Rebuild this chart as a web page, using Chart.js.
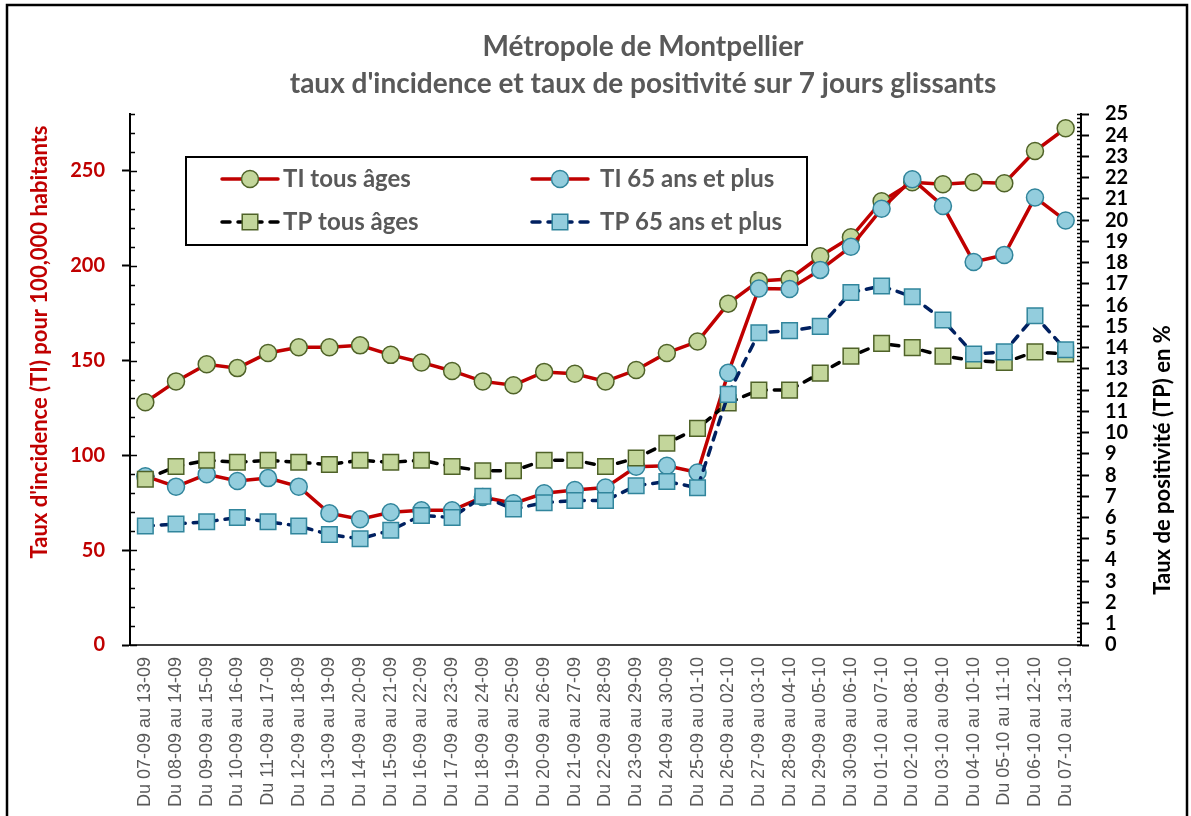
<!DOCTYPE html>
<html lang="fr">
<head>
<meta charset="utf-8">
<title>Métropole de Montpellier - TI et TP</title>
<script src="https://cdn.jsdelivr.net/npm/chart.js"></script>
<style>
    html, body { margin: 0; padding: 0; background: #fff; }
    #wrap { position: relative; width: 1191px; height: 816px; }
</style>
</head>
<body>
<div id="wrap"><canvas id="chart"></canvas></div>
<script>
// Périodes (7 jours glissants)
const labels = [
    'Du 07-09 au 13-09', 'Du 08-09 au 14-09', 'Du 09-09 au 15-09', 'Du 10-09 au 16-09',
    'Du 11-09 au 17-09', 'Du 12-09 au 18-09', 'Du 13-09 au 19-09', 'Du 14-09 au 20-09',
    'Du 15-09 au 21-09', 'Du 16-09 au 22-09', 'Du 17-09 au 23-09', 'Du 18-09 au 24-09',
    'Du 19-09 au 25-09', 'Du 20-09 au 26-09', 'Du 21-09 au 27-09', 'Du 22-09 au 28-09',
    'Du 23-09 au 29-09', 'Du 24-09 au 30-09', 'Du 25-09 au 01-10', 'Du 26-09 au 02-10',
    'Du 27-09 au 03-10', 'Du 28-09 au 04-10', 'Du 29-09 au 05-10', 'Du 30-09 au 06-10',
    'Du 01-10 au 07-10', 'Du 02-10 au 08-10', 'Du 03-10 au 09-10', 'Du 04-10 au 10-10',
    'Du 05-10 au 11-10', 'Du 06-10 au 12-10', 'Du 07-10 au 13-10'
];

// Taux d'incidence (pour 100 000 hab.)
const tiTousAges = [128, 139, 148, 146, 154, 157, 157, 158, 153, 149, 144.5, 139, 137, 144, 143, 139,
    145, 154, 160, 180, 192, 193, 205, 215, 234, 244, 243, 244, 243.5, 260.5, 272.5];
const ti65Plus = [89, 83.5, 90, 86.5, 88, 83.5, 69.5, 66.3, 70, 71, 71, 78, 74.7, 80, 81.7, 83,
    94, 94.5, 91, 143.5, 188, 187.7, 197.8, 210, 230, 245.6, 231.5, 202, 205.7, 236, 223.8];

// Taux de positivité (%)
const tpTousAges = [7.8, 8.4, 8.7, 8.6, 8.7, 8.6, 8.5, 8.7, 8.6, 8.7, 8.4, 8.2, 8.2, 8.7, 8.7, 8.4,
    8.8, 9.5, 10.2, 11.4, 12.0, 12.0, 12.8, 13.6, 14.2, 14.0, 13.6, 13.4, 13.3, 13.8, 13.7];
const tp65Plus = [5.6, 5.7, 5.8, 6.0, 5.8, 5.6, 5.2, 5.0, 5.4, 6.1, 6.0, 7.0, 6.4, 6.7, 6.8, 6.8,
    7.5, 7.7, 7.4, 11.8, 14.7, 14.8, 15.0, 16.6, 16.9, 16.4, 15.3, 13.7, 13.8, 15.5, 13.9];

const titleLines = ['Métropole de Montpellier', "taux d'incidence et taux de positivité sur 7 jours glissants"];
const leftTitle = "Taux d'incidence (TI) pour 100,000 habitants";
const rightTitle = 'Taux de positivité (TP) en %';

const RED = '#C00000';
const GREEN_FILL = '#C3D69B', GREEN_EDGE = '#4F6228';
const BLUE_FILL = '#93CDDD', BLUE_EDGE = '#31859C';

const isWhole = v => Math.abs(v - Math.round(v)) < 1e-6;

// titres, légende encadrée, petites graduations intérieures
const overlayPlugin = {
    id: 'overlay',
    beforeDraw(chart) {
        const ctx = chart.ctx;
        ctx.save();
        ctx.strokeStyle = '#000';
        ctx.lineWidth = 2.5;
        ctx.strokeRect(7, 5, 1180, 900);
        ctx.restore();
    },
    afterDraw(chart) {
        const ctx = chart.ctx;
        const area = chart.chartArea;
        ctx.save();

        // titre
        ctx.fillStyle = '#595959';
        ctx.font = 'bold 28px Lato';
        ctx.textAlign = 'center';
        ctx.textBaseline = 'middle';
        ctx.fillText(titleLines[0], 643, 47);
        ctx.fillText(titleLines[1], 643, 84);

        // titres des axes
        ctx.font = 'bold 22px Lato';
        ctx.save();
        ctx.translate(40, 342);
        ctx.rotate(-Math.PI / 2);
        ctx.fillStyle = RED;
        ctx.fillText(leftTitle, 0, 0);
        ctx.restore();
        ctx.save();
        ctx.translate(1163, 460);
        ctx.rotate(-Math.PI / 2);
        ctx.fillStyle = '#000';
        ctx.fillText(rightTitle, 0, 0);
        ctx.restore();

        // graduations vers l'intérieur
        ctx.strokeStyle = '#000';
        ctx.lineWidth = 1.5;
        const y = chart.scales.y, y2 = chart.scales.y2;
        y.ticks.forEach(t => {
            const py = Math.round(y.getPixelForValue(t.value)) + 0.5;
            ctx.beginPath();
            ctx.moveTo(area.left, py);
            ctx.lineTo(area.left + (t.value % 50 === 0 ? 7 : 5), py);
            ctx.stroke();
        });
        y2.ticks.forEach(t => {
            const py = Math.round(y2.getPixelForValue(t.value)) + 0.5;
            ctx.beginPath();
            ctx.moveTo(area.right, py);
            ctx.lineTo(area.right - 4, py);
            ctx.stroke();
        });

        // légende
        const box = { x: area.left + 56, y: area.top + 43, w: 621, h: 88 };
        ctx.fillStyle = '#fff';
        ctx.fillRect(box.x, box.y, box.w, box.h);
        ctx.lineWidth = 2;
        ctx.strokeRect(box.x, box.y, box.w, box.h);

        const cols = [box.x + 36, box.x + 346];
        const textX = [box.x + 97, box.x + 414];
        const rows = [box.y + 22, box.y + 65];
        chart.data.datasets.forEach((ds, i) => {
            const x0 = cols[i % 2], cy = rows[Math.floor(i / 2)];
            const cx = x0 + 28;
            ctx.save();
            ctx.strokeStyle = ds.borderColor;
            ctx.lineWidth = ds.borderWidth;
            ctx.lineCap = 'round';
            ctx.setLineDash(ds.borderDash || []);
            ctx.beginPath();
            ctx.moveTo(x0, cy);
            ctx.lineTo(x0 + 56, cy);
            ctx.stroke();
            ctx.setLineDash([]);
            ctx.fillStyle = ds.pointBackgroundColor;
            ctx.strokeStyle = ds.pointBorderColor;
            ctx.lineWidth = ds.pointBorderWidth;
            ctx.beginPath();
            if (ds.pointStyle === 'rect') {
                const s = ds.pointRadius * Math.SQRT1_2;
                ctx.rect(cx - s, cy - s, 2 * s, 2 * s);
            } else {
                ctx.arc(cx, cy, ds.pointRadius, 0, Math.PI * 2);
            }
            ctx.fill();
            ctx.stroke();
            ctx.restore();

            ctx.fillStyle = '#595959';
            ctx.font = 'bold 24px Lato';
            ctx.textAlign = 'left';
            ctx.textBaseline = 'middle';
            ctx.fillText(ds.label, textX[i % 2], cy);
        });

        ctx.restore();
    }
};

new Chart(document.getElementById('chart'), {
    type: 'line',
    data: {
        labels: labels,
        datasets: [
            {
                label: 'TI tous âges',
                data: tiTousAges,
                yAxisID: 'y',
                order: 4,
                borderColor: RED,
                borderWidth: 3.5,
                pointStyle: 'circle',
                pointRadius: 8.5,
                pointBackgroundColor: GREEN_FILL,
                pointBorderColor: GREEN_EDGE,
                pointBorderWidth: 1.5
            },
            {
                label: 'TI 65 ans et plus',
                data: ti65Plus,
                yAxisID: 'y',
                order: 3,
                borderColor: RED,
                borderWidth: 3.5,
                pointStyle: 'circle',
                pointRadius: 8.5,
                pointBackgroundColor: BLUE_FILL,
                pointBorderColor: BLUE_EDGE,
                pointBorderWidth: 1.5
            },
            {
                label: 'TP tous âges',
                data: tpTousAges,
                yAxisID: 'y2',
                order: 2,
                borderColor: '#000000',
                borderWidth: 3.5,
                borderDash: [8, 8],
                borderCapStyle: 'round',
                pointStyle: 'rect',
                pointRadius: 11,
                pointBackgroundColor: GREEN_FILL,
                pointBorderColor: GREEN_EDGE,
                pointBorderWidth: 1.5
            },
            {
                label: 'TP 65 ans et plus',
                data: tp65Plus,
                yAxisID: 'y2',
                order: 1,
                borderColor: '#002060',
                borderWidth: 3.5,
                borderDash: [8, 8],
                borderCapStyle: 'round',
                pointStyle: 'rect',
                pointRadius: 11,
                pointBackgroundColor: BLUE_FILL,
                pointBorderColor: BLUE_EDGE,
                pointBorderWidth: 1.5
            }
        ]
    },
    options: {
        responsive: true,
        maintainAspectRatio: false,
        devicePixelRatio: 1,
        animation: false,
        layout: { padding: { top: 114, left: 0, right: 0, bottom: 0 } },
        plugins: {
            legend: { display: false },
            title: { display: false },
            tooltip: { enabled: false }
        },
        scales: {
            x: {
                offset: true,
                grid: { display: false, drawTicks: false },
                border: { display: true, color: '#404040', width: 2 },
                ticks: {
                    autoSkip: false,
                    minRotation: 90,
                    maxRotation: 90,
                    padding: 12,
                    color: '#595959',
                    font: { family: 'Liberation Sans', size: 18 }
                },
                afterFit: s => { s.height = 171; }
            },
            y: {
                position: 'left',
                min: 0,
                max: 280,
                grid: {
                    drawOnChartArea: false,
                    tickLength: 8,
                    tickWidth: 2,
                    tickColor: c => (c.tick && c.tick.value % 50 === 0) ? '#000' : 'rgba(0,0,0,0)'
                },
                border: { color: '#000', width: 2 },
                ticks: {
                    stepSize: 10,
                    autoSkip: false,
                    padding: 17,
                    color: RED,
                    font: { family: 'Lato', size: 20, weight: 'bold' },
                    callback: v => (v % 50 === 0 ? String(v) : '')
                },
                afterFit: s => { s.width = 130; }
            },
            y2: {
                position: 'right',
                min: 0,
                max: 25,
                grid: {
                    drawOnChartArea: false,
                    tickLength: 8,
                    tickWidth: 2,
                    tickColor: c => (c.tick && isWhole(c.tick.value)) ? '#000' : 'rgba(0,0,0,0)'
                },
                border: { color: '#000', width: 2 },
                ticks: {
                    stepSize: 0.2,
                    autoSkip: false,
                    padding: 16,
                    color: '#000',
                    font: { family: 'Lato', size: 20, weight: 'bold' },
                    callback: v => (isWhole(v) ? String(Math.round(v)) : '')
                },
                afterFit: s => { s.width = 110; }
            }
        }
    },
    plugins: [overlayPlugin]
});
</script>
</body>
</html>
